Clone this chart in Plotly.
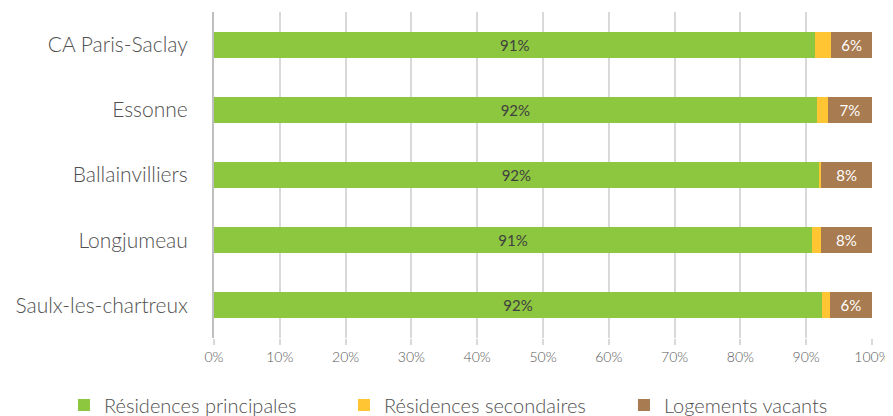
import plotly.graph_objects as go

categories = ["CA Paris-Saclay", "Essonne", "Ballainvilliers", "Longjumeau", "Saulx-les-chartreux"]
principales = [91.4, 91.6, 91.9, 90.9, 92.4]
secondaires = [2.4, 1.7, 0.4, 1.3, 1.2]
vacants = [6.2, 6.7, 7.7, 7.8, 6.4]
tick_vals = [0, 10, 20, 30, 40, 50, 60, 70, 80, 90, 100]
tick_text = [f"{v}%" for v in tick_vals]

FONT = "Lato"
GREY = "#595959"
W = 300

fig = go.Figure()
fig.add_trace(go.Bar(
    y=categories, x=principales, orientation="h", name="Résidences principales",
    marker=dict(color="#8DC63F", line=dict(width=0)),
    text=[f"{round(v)}%" for v in principales], textposition="inside",
    insidetextanchor="middle", textfont=dict(color="#404040", size=15, family=FONT, weight=400),
    hoverinfo="skip"))
fig.add_trace(go.Bar(
    y=categories, x=secondaires, orientation="h", name="Résidences secondaires",
    marker=dict(color="#FFC533", line=dict(width=0)), hoverinfo="skip"))
fig.add_trace(go.Bar(
    y=categories, x=vacants, orientation="h", name="Logements vacants",
    marker=dict(color="#A87B50", line=dict(width=0)),
    text=[f"{round(v)}%" for v in vacants], textposition="inside",
    insidetextanchor="middle", textfont=dict(color="white", size=15, family=FONT, weight=400),
    legendwidth=180, hoverinfo="skip"))

fig.update_layout(
    barmode="stack", bargap=0.6,
    width=885, height=408,
    margin=dict(l=206, r=21, t=4, b=78, autoexpand=False),
    paper_bgcolor="white", plot_bgcolor="white",
    font=dict(family=FONT, color=GREY, weight=W),
    uniformtext=dict(minsize=11, mode="show"),
    xaxis=dict(range=[0, 100], tickvals=tick_vals, ticktext=tick_text,
               showgrid=True, gridcolor="#D9D9D9", gridwidth=2,
               ticks="outside", ticklen=6, tickcolor="#D9D9D9", tickwidth=2,
               tickfont=dict(size=14, color=GREY, weight=W), zeroline=False, fixedrange=True,
               automargin=False),
    yaxis=dict(autorange="reversed", showline=True, linecolor="#BFBFBF", linewidth=2,
               ticks="", ticklabelstandoff=20, tickfont=dict(size=21, color="#505050", weight=W),
               fixedrange=True, automargin=False),
    legend=dict(orientation="h", x=-0.228, xanchor="left",
                y=-0.2055, yanchor="middle",
                font=dict(size=20, color="#505050", weight=W), traceorder="normal", itemwidth=30,
                entrywidth=235, entrywidthmode="pixels"),
    showlegend=True,
)

fig.write_html("out.html")
